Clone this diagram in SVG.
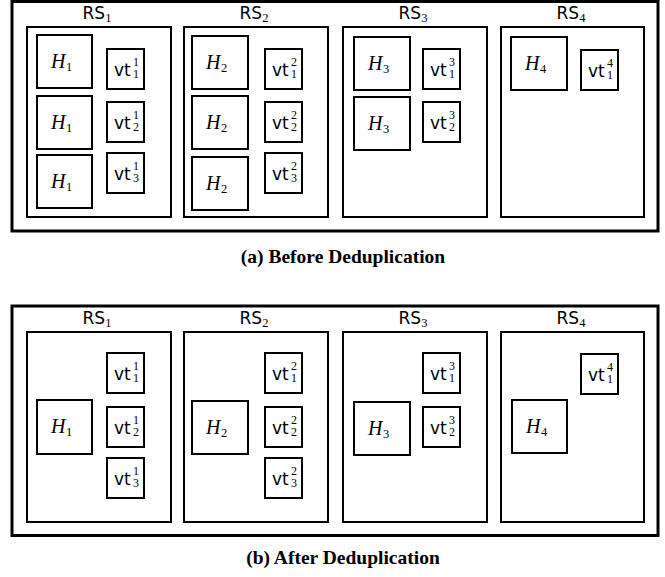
<svg xmlns="http://www.w3.org/2000/svg" width="665" height="577" viewBox="0 0 665 577">
<style>
.frame{fill:#fff;stroke:#000;stroke-width:3}
.rs{fill:#fff;stroke:#000;stroke-width:2}
.box{fill:#fff;stroke:#000;stroke-width:2}
.lbl{font-family:"DejaVu Sans",sans-serif;font-size:17px;fill:#000}
.dg{font-family:"Liberation Serif",serif;font-size:12.5px;font-style:normal;fill:#000}
.sd{font-family:"Liberation Serif",serif;font-size:12px;fill:#000}
.h{font-family:"Liberation Serif",serif;font-style:italic;font-size:20px;fill:#000}
.vt{font-family:"DejaVu Sans",sans-serif;font-size:17px;fill:#000}
.cap{font-family:"Liberation Serif",serif;font-weight:bold;font-size:19.5px;fill:#000}
</style>
<rect width="665" height="577" fill="#fff"/>

<!-- (a) Before Deduplication -->
<g id="panelA">
<rect class="frame" x="12" y="1.5" width="646" height="229.5"/>
<g id="a-RS1">
<rect class="rs" x="27" y="27" width="144" height="190"/>
<text class="lbl" x="97" y="19" text-anchor="middle">RS<tspan class="dg" dy="3">1</tspan></text>
<g id="a-RS1-H1a"><rect class="box" x="37" y="35" width="55" height="53"/><text class="h" x="51" y="68">H<tspan class="dg" x="66" dy="3">1</tspan></text></g>
<g id="a-RS1-H1b"><rect class="box" x="37" y="96" width="55" height="53"/><text class="h" x="51" y="129">H<tspan class="dg" x="66" dy="3">1</tspan></text></g>
<g id="a-RS1-H1c"><rect class="box" x="37" y="155" width="55" height="53"/><text class="h" x="51" y="188">H<tspan class="dg" x="66" dy="3">1</tspan></text></g>
<g id="a-vt11"><rect class="box" x="107" y="49" width="37" height="40"/><text class="vt" x="114" y="76">vt</text><text class="sd" x="133" y="65.5">1</text><text class="sd" x="133" y="78">1</text></g>
<g id="a-vt21"><rect class="box" x="107" y="102" width="37" height="40"/><text class="vt" x="114" y="129">vt</text><text class="sd" x="133" y="118.5">1</text><text class="sd" x="133" y="131">2</text></g>
<g id="a-vt31"><rect class="box" x="107" y="153" width="37" height="40"/><text class="vt" x="114" y="180">vt</text><text class="sd" x="133" y="169.5">1</text><text class="sd" x="133" y="182">3</text></g>
</g>
<g id="a-RS2">
<rect class="rs" x="184" y="27" width="144" height="190"/>
<text class="lbl" x="254" y="19" text-anchor="middle">RS<tspan class="dg" dy="3">2</tspan></text>
<g id="a-RS2-H2a"><rect class="box" x="192" y="36" width="56" height="53"/><text class="h" x="206" y="69">H<tspan class="dg" x="221" dy="3">2</tspan></text></g>
<g id="a-RS2-H2b"><rect class="box" x="192" y="96" width="56" height="53"/><text class="h" x="206" y="129">H<tspan class="dg" x="221" dy="3">2</tspan></text></g>
<g id="a-RS2-H2c"><rect class="box" x="192" y="157" width="56" height="53"/><text class="h" x="206" y="190">H<tspan class="dg" x="221" dy="3">2</tspan></text></g>
<g id="a-vt12"><rect class="box" x="265" y="49" width="37" height="40"/><text class="vt" x="272" y="76">vt</text><text class="sd" x="291" y="65.5">2</text><text class="sd" x="291" y="78">1</text></g>
<g id="a-vt22"><rect class="box" x="265" y="102" width="37" height="40"/><text class="vt" x="272" y="129">vt</text><text class="sd" x="291" y="118.5">2</text><text class="sd" x="291" y="131">2</text></g>
<g id="a-vt32"><rect class="box" x="265" y="153" width="37" height="40"/><text class="vt" x="272" y="180">vt</text><text class="sd" x="291" y="169.5">2</text><text class="sd" x="291" y="182">3</text></g>
</g>
<g id="a-RS3">
<rect class="rs" x="343" y="27" width="144" height="190"/>
<text class="lbl" x="413" y="19" text-anchor="middle">RS<tspan class="dg" dy="3">3</tspan></text>
<g id="a-RS3-H3a"><rect class="box" x="354" y="37" width="56" height="53"/><text class="h" x="368" y="70">H<tspan class="dg" x="383" dy="3">3</tspan></text></g>
<g id="a-RS3-H3b"><rect class="box" x="354" y="97" width="56" height="53"/><text class="h" x="368" y="130">H<tspan class="dg" x="383" dy="3">3</tspan></text></g>
<g id="a-vt13"><rect class="box" x="423" y="49" width="37" height="40"/><text class="vt" x="430" y="76">vt</text><text class="sd" x="449" y="65.5">3</text><text class="sd" x="449" y="78">1</text></g>
<g id="a-vt23"><rect class="box" x="423" y="102" width="37" height="40"/><text class="vt" x="430" y="129">vt</text><text class="sd" x="449" y="118.5">3</text><text class="sd" x="449" y="131">2</text></g>
</g>
<g id="a-RS4">
<rect class="rs" x="501" y="27" width="143" height="190"/>
<text class="lbl" x="571" y="19" text-anchor="middle">RS<tspan class="dg" dy="3">4</tspan></text>
<g id="a-RS4-H4"><rect class="box" x="511" y="37" width="56" height="53"/><text class="h" x="525" y="70">H<tspan class="dg" x="540" dy="3">4</tspan></text></g>
<g id="a-vt14"><rect class="box" x="581" y="50" width="37" height="40"/><text class="vt" x="588" y="77">vt</text><text class="sd" x="607" y="66.5">4</text><text class="sd" x="607" y="79">1</text></g>
</g>
</g>
<text class="cap" x="343" y="263" text-anchor="middle">(a) Before Deduplication</text>

<!-- (b) After Deduplication -->
<g id="panelB">
<rect class="frame" x="12" y="306" width="646" height="229.5"/>
<g id="b-RS1">
<rect class="rs" x="27" y="332" width="144" height="190"/>
<text class="lbl" x="97" y="324" text-anchor="middle">RS<tspan class="dg" dy="3">1</tspan></text>
<g id="b-RS1-H1"><rect class="box" x="37" y="400" width="55" height="54"/><text class="h" x="51" y="433">H<tspan class="dg" x="66" dy="3">1</tspan></text></g>
<g id="b-vt11"><rect class="box" x="107" y="353" width="37" height="40"/><text class="vt" x="114" y="380">vt</text><text class="sd" x="133" y="369.5">1</text><text class="sd" x="133" y="382">1</text></g>
<g id="b-vt21"><rect class="box" x="107" y="407" width="37" height="40"/><text class="vt" x="114" y="434">vt</text><text class="sd" x="133" y="423.5">1</text><text class="sd" x="133" y="436">2</text></g>
<g id="b-vt31"><rect class="box" x="107" y="458" width="37" height="40"/><text class="vt" x="114" y="485">vt</text><text class="sd" x="133" y="474.5">1</text><text class="sd" x="133" y="487">3</text></g>
</g>
<g id="b-RS2">
<rect class="rs" x="184" y="332" width="144" height="190"/>
<text class="lbl" x="254" y="324" text-anchor="middle">RS<tspan class="dg" dy="3">2</tspan></text>
<g id="b-RS2-H2"><rect class="box" x="192" y="401" width="56" height="53"/><text class="h" x="206" y="434">H<tspan class="dg" x="221" dy="3">2</tspan></text></g>
<g id="b-vt12"><rect class="box" x="265" y="353" width="37" height="40"/><text class="vt" x="272" y="380">vt</text><text class="sd" x="291" y="369.5">2</text><text class="sd" x="291" y="382">1</text></g>
<g id="b-vt22"><rect class="box" x="265" y="407" width="37" height="40"/><text class="vt" x="272" y="434">vt</text><text class="sd" x="291" y="423.5">2</text><text class="sd" x="291" y="436">2</text></g>
<g id="b-vt32"><rect class="box" x="265" y="458" width="37" height="40"/><text class="vt" x="272" y="485">vt</text><text class="sd" x="291" y="474.5">2</text><text class="sd" x="291" y="487">3</text></g>
</g>
<g id="b-RS3">
<rect class="rs" x="343" y="332" width="144" height="190"/>
<text class="lbl" x="413" y="324" text-anchor="middle">RS<tspan class="dg" dy="3">3</tspan></text>
<g id="b-RS3-H3"><rect class="box" x="354" y="402" width="56" height="53"/><text class="h" x="368" y="435">H<tspan class="dg" x="383" dy="3">3</tspan></text></g>
<g id="b-vt13"><rect class="box" x="423" y="353" width="37" height="40"/><text class="vt" x="430" y="380">vt</text><text class="sd" x="449" y="369.5">3</text><text class="sd" x="449" y="382">1</text></g>
<g id="b-vt23"><rect class="box" x="423" y="407" width="37" height="40"/><text class="vt" x="430" y="434">vt</text><text class="sd" x="449" y="423.5">3</text><text class="sd" x="449" y="436">2</text></g>
</g>
<g id="b-RS4">
<rect class="rs" x="501" y="332" width="143" height="190"/>
<text class="lbl" x="571" y="324" text-anchor="middle">RS<tspan class="dg" dy="3">4</tspan></text>
<g id="b-RS4-H4"><rect class="box" x="512" y="400" width="55" height="53"/><text class="h" x="526" y="433">H<tspan class="dg" x="541" dy="3">4</tspan></text></g>
<g id="b-vt14"><rect class="box" x="581" y="354" width="37" height="40"/><text class="vt" x="588" y="381">vt</text><text class="sd" x="607" y="370.5">4</text><text class="sd" x="607" y="383">1</text></g>
</g>
</g>
<text class="cap" x="343" y="564" text-anchor="middle">(b) After Deduplication</text>
<g id="connectors"/>
</svg>
